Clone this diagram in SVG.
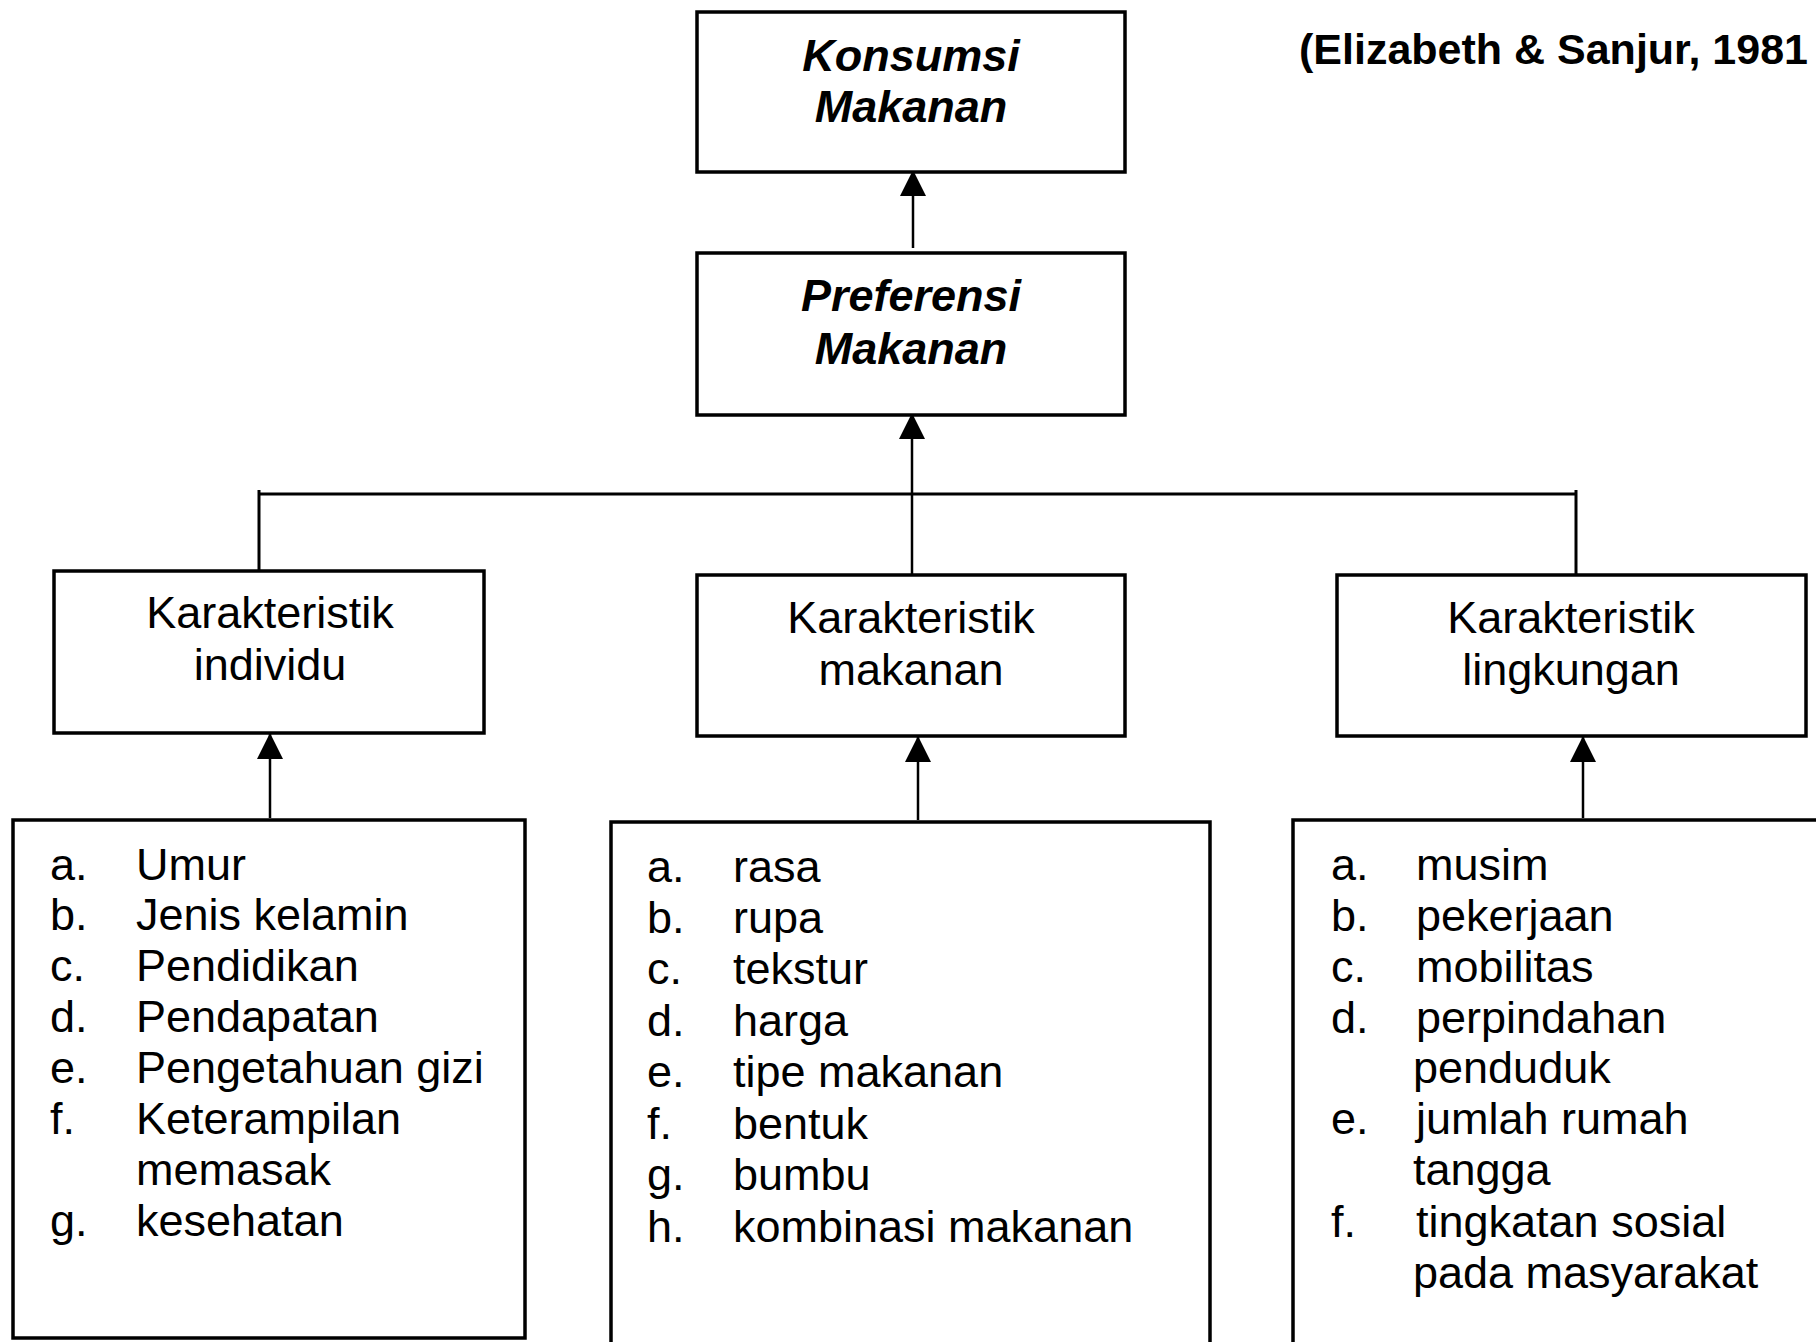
<svg xmlns="http://www.w3.org/2000/svg" width="1816" height="1342" viewBox="0 0 1816 1342">
  <defs>
    <style>
      .box { fill: #ffffff; stroke: #000000; stroke-width: 3.5; }
      .wire { fill: none; stroke: #000000; stroke-width: 3; }
      .shaft { fill: none; stroke: #000000; stroke-width: 2.5; }
      text { font-family: "Liberation Sans", Arial, sans-serif; fill: #000000; }
      .head { font-size: 45px; font-weight: bold; font-style: italic; text-anchor: middle; }
      .mid { font-size: 45px; text-anchor: middle; }
      .item { font-size: 45px; }
      .cite { font-size: 43px; font-weight: bold; }
    </style>
    <marker id="arrow" viewBox="0 0 26 26" refX="26" refY="13" markerWidth="26" markerHeight="26" markerUnits="userSpaceOnUse" orient="auto">
      <path d="M0,0 L26,13 L0,26 Z" fill="#000000"/>
    </marker>
  </defs>

  <rect width="1816" height="1342" fill="#ffffff"/>

  <!-- connectors -->
  <g id="connectors">
    <line class="shaft" x1="913" y1="248" x2="913" y2="170" marker-end="url(#arrow)"/>
    <line class="shaft" x1="912" y1="575" x2="912" y2="413" marker-end="url(#arrow)"/>
    <line class="wire" x1="259" y1="494" x2="1576" y2="494"/>
    <line class="wire" x1="259" y1="490" x2="259" y2="571"/>
    <line class="wire" x1="1576" y1="490" x2="1576" y2="575"/>
    <line class="shaft" x1="270" y1="818" x2="270" y2="733" marker-end="url(#arrow)"/>
    <line class="shaft" x1="918" y1="820" x2="918" y2="736" marker-end="url(#arrow)"/>
    <line class="shaft" x1="1583" y1="818" x2="1583" y2="736" marker-end="url(#arrow)"/>
  </g>

  <!-- citation -->
  <text class="cite" x="1299" y="64">(Elizabeth &amp; Sanjur, 1981</text>

  <g id="konsumsi">
    <rect class="box" x="697" y="12" width="428" height="160"/>
    <text class="head" x="911" y="71">Konsumsi</text>
    <text class="head" x="911" y="122">Makanan</text>
  </g>

  <g id="preferensi">
    <rect class="box" x="697" y="253" width="428" height="162"/>
    <text class="head" x="911" y="311">Preferensi</text>
    <text class="head" x="911" y="364">Makanan</text>
  </g>

  <g id="k-individu">
    <rect class="box" x="54" y="571" width="430" height="162"/>
    <text class="mid" x="270" y="628">Karakteristik</text>
    <text class="mid" x="270" y="680">individu</text>
  </g>

  <g id="k-makanan">
    <rect class="box" x="697" y="575" width="428" height="161"/>
    <text class="mid" x="911" y="633">Karakteristik</text>
    <text class="mid" x="911" y="685">makanan</text>
  </g>

  <g id="k-lingkungan">
    <rect class="box" x="1337" y="575" width="469" height="161"/>
    <text class="mid" x="1571" y="633">Karakteristik</text>
    <text class="mid" x="1571" y="685">lingkungan</text>
  </g>

  <g id="list-individu">
    <rect class="box" x="13" y="820" width="512" height="518"/>
    <text class="item" x="50" y="880">a.</text><text class="item" x="136" y="880">Umur</text>
    <text class="item" x="50" y="930">b.</text><text class="item" x="136" y="930">Jenis kelamin</text>
    <text class="item" x="50" y="981">c.</text><text class="item" x="136" y="981">Pendidikan</text>
    <text class="item" x="50" y="1032">d.</text><text class="item" x="136" y="1032">Pendapatan</text>
    <text class="item" x="50" y="1083">e.</text><text class="item" x="136" y="1083">Pengetahuan gizi</text>
    <text class="item" x="50" y="1134">f.</text><text class="item" x="136" y="1134">Keterampilan</text>
    <text class="item" x="136" y="1185">memasak</text>
    <text class="item" x="50" y="1236">g.</text><text class="item" x="136" y="1236">kesehatan</text>
  </g>

  <g id="list-makanan">
    <rect class="box" x="611" y="822" width="599" height="580"/>
    <text class="item" x="647" y="882">a.</text><text class="item" x="733" y="882">rasa</text>
    <text class="item" x="647" y="933">b.</text><text class="item" x="733" y="933">rupa</text>
    <text class="item" x="647" y="984">c.</text><text class="item" x="733" y="984">tekstur</text>
    <text class="item" x="647" y="1036">d.</text><text class="item" x="733" y="1036">harga</text>
    <text class="item" x="647" y="1087">e.</text><text class="item" x="733" y="1087">tipe makanan</text>
    <text class="item" x="647" y="1139">f.</text><text class="item" x="733" y="1139">bentuk</text>
    <text class="item" x="647" y="1190">g.</text><text class="item" x="733" y="1190">bumbu</text>
    <text class="item" x="647" y="1242">h.</text><text class="item" x="733" y="1242">kombinasi makanan</text>
  </g>

  <g id="list-lingkungan">
    <rect class="box" x="1293" y="820" width="600" height="600"/>
    <text class="item" x="1331" y="880">a.</text><text class="item" x="1416" y="880">musim</text>
    <text class="item" x="1331" y="931">b.</text><text class="item" x="1416" y="931">pekerjaan</text>
    <text class="item" x="1331" y="982">c.</text><text class="item" x="1416" y="982">mobilitas</text>
    <text class="item" x="1331" y="1033">d.</text><text class="item" x="1416" y="1033">perpindahan</text>
    <text class="item" x="1413" y="1083">penduduk</text>
    <text class="item" x="1331" y="1134">e.</text><text class="item" x="1416" y="1134">jumlah rumah</text>
    <text class="item" x="1413" y="1185">tangga</text>
    <text class="item" x="1331" y="1237">f.</text><text class="item" x="1416" y="1237">tingkatan sosial</text>
    <text class="item" x="1413" y="1288">pada masyarakat</text>
  </g>
</svg>
